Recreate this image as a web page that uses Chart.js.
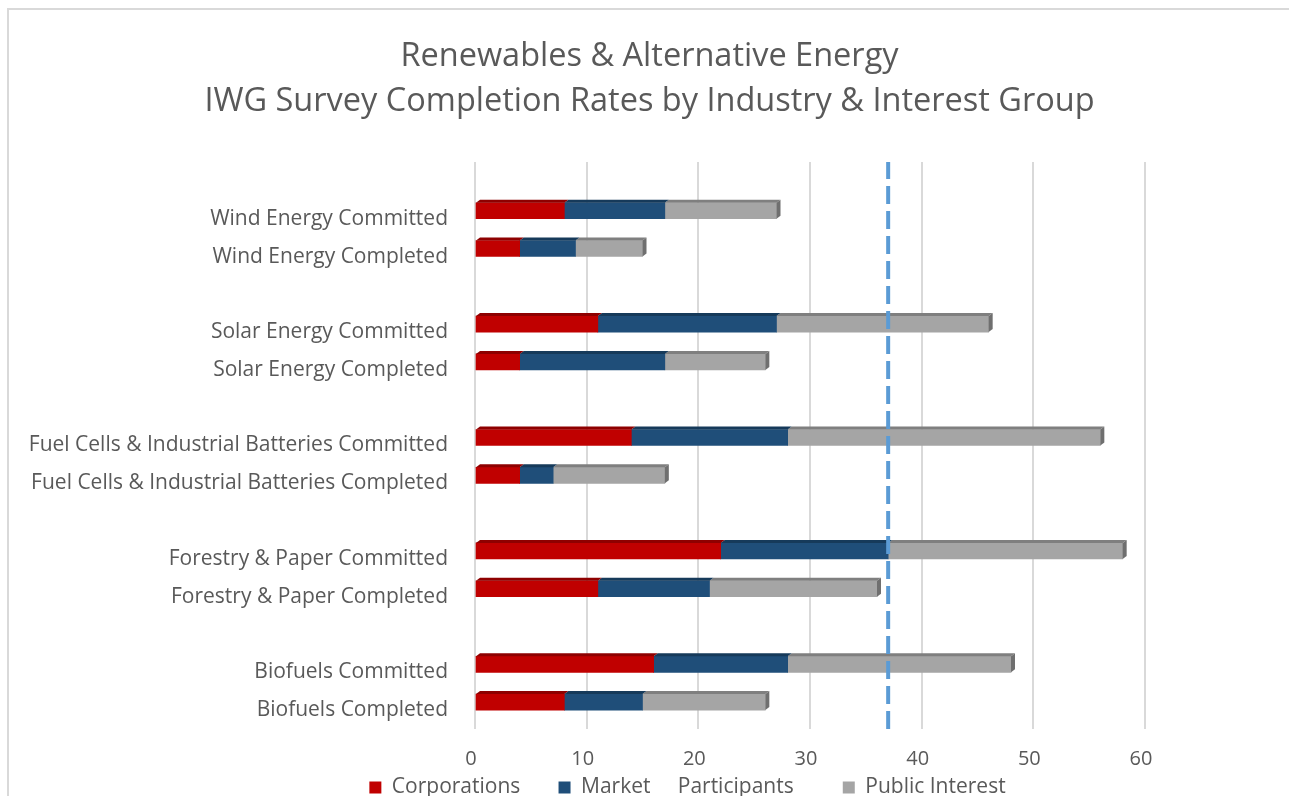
<!DOCTYPE html>
<html>
<head>
<meta charset="utf-8">
<script src="https://cdn.jsdelivr.net/npm/chart.js@4.4.1/dist/chart.umd.min.js"></script>
<style>
  html, body { margin: 0; padding: 0; background: #fff; overflow: hidden; }
  #wrap { position: relative; width: 1289px; height: 796px; overflow: hidden; }
  #frame { position: absolute; left: 7px; top: 8px; width: 1300px; height: 800px;
           border-left: 2px solid #d9d9d9; border-top: 2px solid #d9d9d9; pointer-events: none; }
  canvas { position: absolute; left: 0; top: 0; }
</style>
</head>
<body>
<div id="wrap">
  <canvas id="c" width="1289" height="820"></canvas>
  <div id="frame"></div>
</div>
<script>
const titleLines = ['Renewables & Alternative Energy', 'IWG Survey Completion Rates by Industry & Interest Group'];
const categories = ['', 'Wind Energy Committed', 'Wind Energy Completed', '',
  'Solar Energy Committed', 'Solar Energy Completed', '',
  'Fuel Cells & Industrial Batteries Committed', 'Fuel Cells & Industrial Batteries Completed', '',
  'Forestry & Paper Committed', 'Forestry & Paper Completed', '',
  'Biofuels Committed', 'Biofuels Completed'];
const corporations   = [null, 8, 4, null, 11, 4, null, 14, 4, null, 22, 11, null, 16, 8];
const marketParticipants = [null, 9, 5, null, 16, 13, null, 14, 3, null, 15, 10, null, 12, 7];
const publicInterest = [null, 10, 6, null, 19, 9, null, 28, 10, null, 21, 15, null, 20, 11];
const referenceValue = 37;
const xTicks = [0, 10, 20, 30, 40, 50, 60];
const seriesNames = ['Corporations', 'Market     Participants', 'Public Interest'];
const legendGaps = [7, 9, 0];

const FONT = '"Open Sans", sans-serif';
const TEXT = '#595959';

const faceColors = ['#c00000', '#1f4e79', '#a5a5a5'];
const topColors  = ['#8e0000', '#163a5a', '#7f7f7f'];

const bevel = {
  id: 'bevel',
  afterLayout(chart) {
    const lg = chart.legend;
    if (lg) { lg.left += 38; lg.right += 38; lg.top -= 12; lg.bottom -= 12; }
  },
  afterDatasetDraw(chart, args) {
    const ds = chart.data.datasets[args.index];
    if (ds.type === 'line') return;
    const ctx = chart.ctx;
    const meta = args.meta;
    const dx = 4, dy = 3;
    ctx.save();
    meta.data.forEach((el, i) => {
      if (ds.data[i] == null) return;
      const left = Math.min(el.base, el.x), right = Math.max(el.base, el.x);
      const top = el.y - el.height / 2, bottom = el.y + el.height / 2;
      ctx.fillStyle = topColors[args.index];
      ctx.beginPath();
      ctx.moveTo(left, top);
      ctx.lineTo(left + dx, top - dy);
      ctx.lineTo(right + dx, top - dy);
      ctx.lineTo(right, top);
      ctx.closePath();
      ctx.fill();
      if (args.index === 2) {
        ctx.fillStyle = '#6f6f6f';
        ctx.beginPath();
        ctx.moveTo(right, top);
        ctx.lineTo(right + dx, top - dy);
        ctx.lineTo(right + dx, bottom - dy);
        ctx.lineTo(right, bottom);
        ctx.closePath();
        ctx.fill();
      }
    });
    ctx.restore();
  }
};

const CHART_LEFT = 475;
const CHART_RIGHT = 1145;

new Chart(document.getElementById('c'), {
  data: {
    labels: categories,
    datasets: [
      { type: 'bar', label: seriesNames[0], data: corporations, backgroundColor: faceColors[0], barThickness: 16, order: 1, stack: 's' },
      { type: 'bar', label: seriesNames[1], data: marketParticipants, backgroundColor: faceColors[1], barThickness: 16, order: 1, stack: 's' },
      { type: 'bar', label: seriesNames[2], data: publicInterest, backgroundColor: faceColors[2], barThickness: 16, order: 1, stack: 's' },
      { type: 'line', label: 'Reference', data: [{ x: referenceValue, y: 0 }, { x: referenceValue, y: 1 }],
        yAxisID: 'yLine', borderColor: '#5b9bd5', borderWidth: 4, borderDash: [18, 7],
        pointRadius: 0, fill: false, order: 0, stack: 'ref', clip: false }
    ]
  },
  options: {
    indexAxis: 'y',
    responsive: false,
    animation: false,
    devicePixelRatio: 1,
    layout: { padding: { top: 34, left: 10, right: 0, bottom: 0 } },
    plugins: {
      title: {
        display: true, text: titleLines, color: TEXT,
        font: { family: FONT, size: 32.5, weight: 'normal', lineHeight: 1.385 },
        padding: { top: 0, bottom: 38 }
      },
      legend: {
        position: 'bottom',
        labels: {
          color: TEXT, font: { family: FONT, size: 21 },
          boxWidth: 12, boxHeight: 12, padding: 0,
          filter: (item) => item.datasetIndex < 3,
          generateLabels: (chart) => Chart.defaults.plugins.legend.labels.generateLabels(chart)
            .map(l => Object.assign(l, { text: l.text + ' '.repeat(legendGaps[l.datasetIndex] || 0) }))
        }
      },
      tooltip: { enabled: false }
    },
    scales: {
      x: {
        type: 'linear', stacked: true, min: 0, max: 60,
        afterBuildTicks: (s) => { s.ticks = xTicks.map(v => ({ value: v })); },
        grid: { color: '#d9d9d9', lineWidth: 2, drawTicks: false },
        border: { display: false },
        ticks: { color: TEXT, font: { family: FONT, size: 20, lineHeight: 1.1 }, padding: 19, labelOffset: -4 }
      },
      y: {
        type: 'category', stacked: true,
        grid: { display: false, drawTicks: false },
        border: { display: false },
        ticks: { color: TEXT, font: { family: FONT, size: 21 }, padding: 27, autoSkip: false },
        afterFit: (s) => { s.width = CHART_LEFT - 10; }
      },
      yR: {
        type: 'category', position: 'right', display: true,
        grid: { display: false, drawTicks: false },
        border: { display: false },
        ticks: { display: false },
        afterFit: (s) => { s.width = 1289 - CHART_RIGHT; }
      },
      yLine: { type: 'linear', min: 0, max: 1, display: false }
    }
  },
  plugins: [bevel]
});
</script>
</body>
</html>
